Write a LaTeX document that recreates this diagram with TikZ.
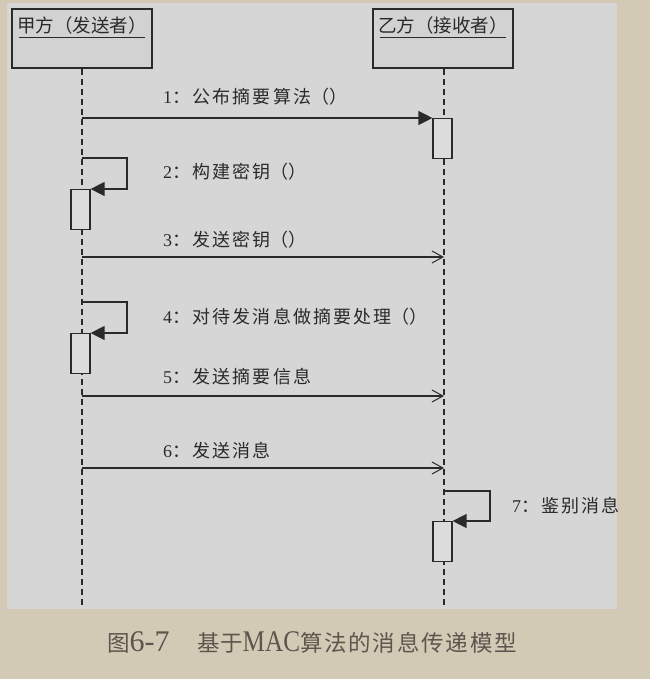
\documentclass[tikz,border=0pt]{standalone}
\usepackage{fontspec}
\setmainfont{Liberation Serif}
\newfontfamily\cjk{Noto Sans CJK SC}
\newfontfamily\cjkl[LetterSpace=12]{Noto Sans CJK SC}
\newfontfamily\cjkc[LetterSpace=8]{Noto Sans CJK SC}
\usetikzlibrary{arrows.meta,calc}
\definecolor{outerbg}{HTML}{D3CAB5}
\definecolor{panel}{HTML}{D6D6D6}
\definecolor{boxfill}{HTML}{D2D2D2}
\definecolor{actfill}{HTML}{DCDCDC}
\definecolor{ink}{HTML}{2A2A2A}
\definecolor{captc}{HTML}{5F544E}
\tikzset{
  actorbox/.style={draw=ink, line width=1.3pt, fill=boxfill, minimum width=140pt, minimum height=59pt, inner sep=0pt},
  actortext/.style={font=\fontsize{18.5}{18.5}\selectfont\cjk, text=ink, inner sep=0pt},
  ul/.style={draw=ink, line width=1.2pt},
  life/.style={draw=ink, line width=1.3pt, dash pattern=on 6pt off 4pt},
  actbox/.style={draw=ink, line width=1.2pt, fill=actfill, minimum width=19pt, minimum height=40pt, inner sep=0pt, anchor=north},
  msg/.style={draw=ink, line width=1.3pt},
  sync/.style={msg, -{Triangle[length=14pt,width=14pt]}},
  async/.style={msg, -{Straight Barb[length=11pt,width=12pt,line width=1pt]}},
  lbl/.style={anchor=west, inner sep=0pt, text=ink, font=\fontsize{18}{18}\selectfont},
  capt/.style={anchor=west, inner sep=0pt, text=captc, font=\fontsize{22.5}{22.5}\selectfont}
}
\newcommand{\pp}{{\cjk （）}}
\newcommand{\bigser}{\fontsize{30}{30}\selectfont}
\begin{document}
\begin{tikzpicture}[x=1pt,y=-1pt]
\fill[outerbg] (0,0) rectangle (650,679);
\useasboundingbox (0,0) rectangle (650,679);
\fill[panel] (7,3) rectangle (617,609);

% actors
\node[actorbox] (A) at (82,38.5) {};
\node[actorbox] (B) at (443,38.5) {};
\node[actortext] (At) at (82,25) {甲方（发送者）};
\node[actortext] (Bt) at (443,25) {乙方（接收者）};
\draw[ul] ($(A.north west)+(8,29)$) -- ($(A.north east)+(-8,29)$);
\draw[ul] ($(B.north west)+(8,29)$) -- ($(B.north east)+(-8,29)$);

% lifelines
\coordinate (Abot) at (82,608);
\coordinate (Bbot) at (444,608);
\draw[life] (A.south) -- (Abot);
\draw[life] (B.south -| Bbot) -- (Bbot);

% activation boxes
\node[actbox] (act1) at (442.5,118) {};
\node[actbox] (act2) at (80.5,189) {};
\node[actbox] (act4) at (80.5,333) {};
\node[actbox] (act7) at (442.5,521) {};

% messages
\coordinate (m1s) at (82,118);
\draw[sync] (m1s) -- (act1.north west);
\coordinate (m2s) at (82,158);
\draw[sync] (m2s) -- ++(45,0) |- (act2.north east);
\coordinate (m3s) at (82,257);
\coordinate (m3e) at (444,257);
\draw[async] (m3s) -- (m3e);
\coordinate (m4s) at (82,302);
\draw[sync] (m4s) -- ++(45,0) |- (act4.north east);
\coordinate (m5s) at (82,396);
\coordinate (m5e) at (444,396);
\draw[async] (m5s) -- (m5e);
\coordinate (m6s) at (82,468);
\coordinate (m6e) at (444,468);
\draw[async] (m6s) -- (m6e);
\coordinate (m7s) at (444,491);
\draw[sync] (m7s) -- ++(46,0) |- (act7.north east);

% labels
\node[lbl] (l1) at (163,97) {1{\cjkl ：公布摘要算法}\pp};
\node[lbl] (l2) at (163,172) {2{\cjkl ：构建密钥}\pp};
\node[lbl] (l3) at (163,240) {3{\cjkl ：发送密钥}\pp};
\node[lbl] (l4) at (163,317) {4{\cjkl ：对待发消息做摘要处理}\pp};
\node[lbl] (l5) at (163,377) {5{\cjkl ：发送摘要信息}};
\node[lbl] (l6) at (163,451) {6{\cjkl ：发送消息}};
\node[lbl] (l7) at (512,506) {7{\cjkl ：鉴别消息}};

% caption
\node[capt] (cap) at (107,642) {{\cjk 图}{\bigser 6-7}\hspace{28pt}{\cjk 基于}\scalebox{0.84}[1]{\bigser MAC}{\cjkc 算法的消息传递模型}};
\end{tikzpicture}
\end{document}
